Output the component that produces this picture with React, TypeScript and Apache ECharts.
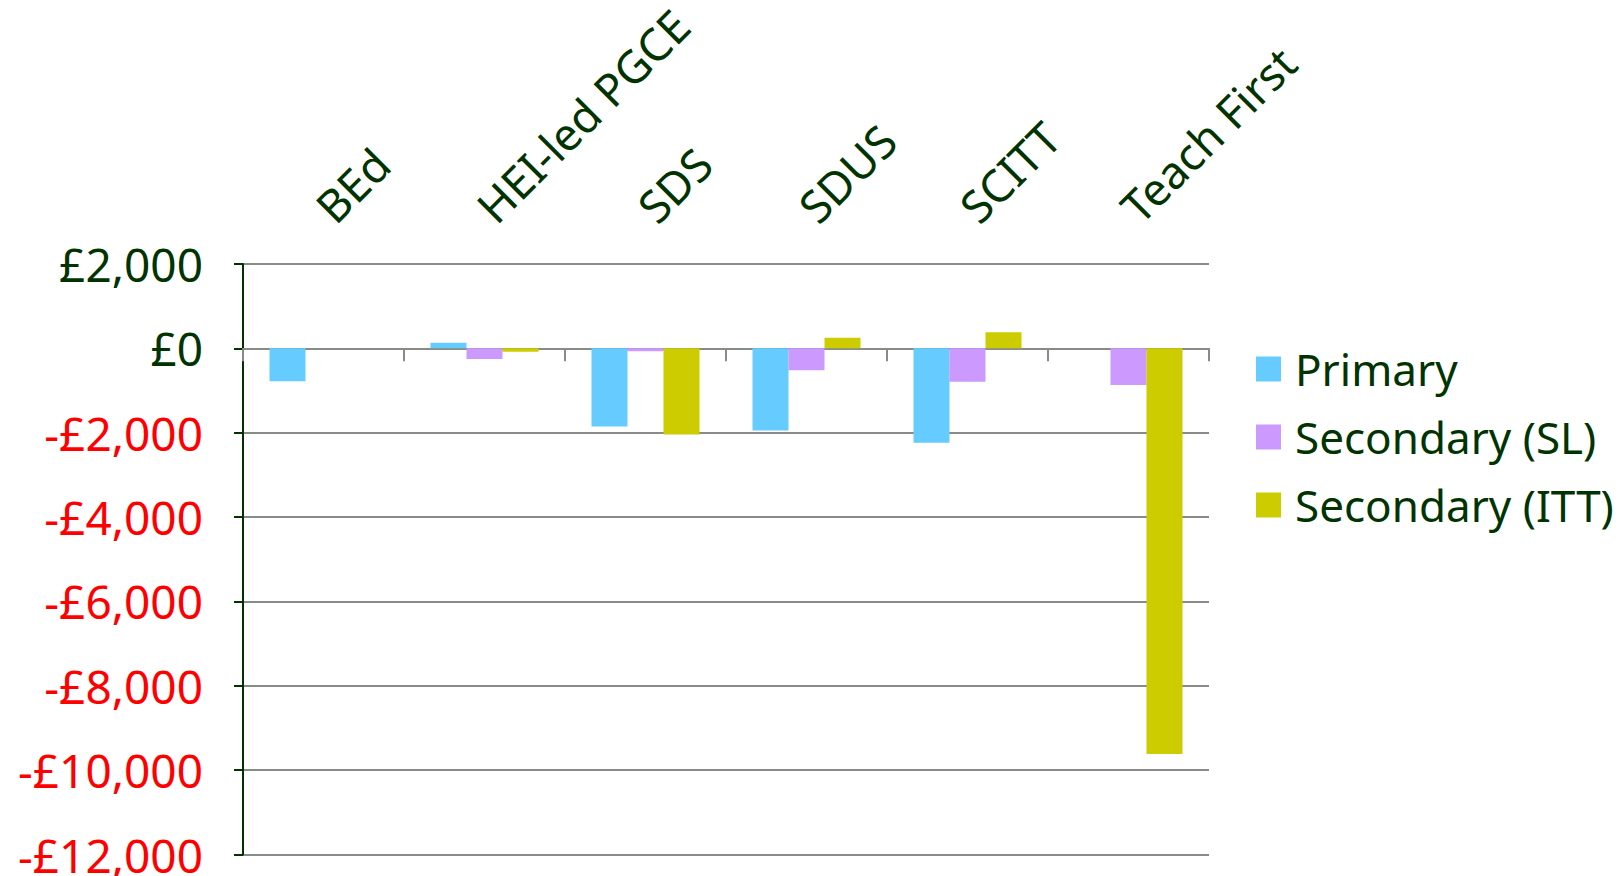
import React, { useEffect, useRef } from "react";
import * as echarts from "echarts";

// Routes into teaching
const routes = ["BEd", "HEI-led PGCE", "SDS", "SDUS", "SCITT", "Teach First"];

// Cost difference per trainee (£), null where a route has no trainees in that phase
const primary = [-780, 130, -1850, -1950, -2240, null];
const secondarySL = [null, -250, -70, -520, -790, -870];
const secondaryITT = [null, -80, -2040, 250, 380, -9620];

const seriesNames = ["Primary", "Secondary (SL)", "Secondary (ITT)"];
const seriesColors = ["#66ccff", "#cc99ff", "#cccc00"];

const yMin = -12000;
const yMax = 2000;
const yStep = 2000;

const DARK_GREEN = "#003300";
const NEG_RED = "#ff0000";
const GRID_GREY = "#878c87";
const FONT = "Noto Sans";

function withCommas(n: number): string {
  return String(Math.round(Math.abs(n))).replace(/\B(?=(\d{3})+(?!\d))/g, ",");
}

function pounds(v: number): string {
  return (v < 0 ? "-£" : "£") + withCommas(v);
}

export default function App() {
  const ref = useRef<HTMLDivElement>(null);

  useEffect(() => {
    document.body.style.margin = "0";
    if (!ref.current) return;
    const chart = echarts.init(ref.current, null, { renderer: "svg" });

    const values = [primary, secondarySL, secondaryITT];

    chart.setOption({
      animation: false,
      backgroundColor: "#ffffff",
      grid: {
        left: 243,
        right: 415,
        top: 264,
        bottom: 21.5,
        containLabel: false,
        outerBoundsMode: "none",
      },
      legend: {
        orient: "vertical",
        left: 1251,
        top: 342,
        itemWidth: 25,
        itemHeight: 25,
        itemGap: 24,
        icon: "rect",
        data: seriesNames,
        textStyle: {
          fontFamily: FONT,
          fontSize: 44,
          lineHeight: 40,
          color: DARK_GREEN,
          padding: [0, 0, 0, 9],
        },
      },
      xAxis: [
        {
          type: "category",
          data: routes,
          position: "bottom",
          axisLine: { onZero: true, lineStyle: { color: GRID_GREY, width: 2 } },
          axisTick: { show: true, length: 13, lineStyle: { color: GRID_GREY, width: 2 } },
          axisLabel: { show: false },
        },
        {
          type: "category",
          data: routes,
          position: "top",
          axisLine: { show: false },
          axisTick: { show: false },
          axisLabel: {
            rotate: -45,
            margin: 50,
            interval: 0,
            fontFamily: FONT,
            fontSize: 45,
            color: DARK_GREEN,
          },
        },
      ],
      yAxis: {
        type: "value",
        min: yMin,
        max: yMax,
        interval: yStep,
        axisLine: { show: true, lineStyle: { color: DARK_GREEN, width: 2 } },
        axisTick: { show: true, length: 9, lineStyle: { color: DARK_GREEN, width: 2 } },
        splitLine: { show: true, lineStyle: { color: GRID_GREY, width: 2 } },
        axisLabel: {
          margin: 40,
          fontFamily: FONT,
          fontSize: 46,
          formatter: (v: number) => pounds(v),
          color: (v: any) => (Number(v) < 0 ? NEG_RED : DARK_GREEN),
        },
      },
      series: seriesNames.map((name, i) => ({
        name,
        type: "bar",
        xAxisIndex: 0,
        data: values[i],
        barWidth: 36,
        barGap: "0%",
        itemStyle: { color: seriesColors[i] },
      })),
    });

    return () => chart.dispose();
  }, []);

  return (
    <div
      ref={ref}
      style={{ position: "fixed", left: 0, top: 0, width: 1624, height: 876 }}
    />
  );
}
